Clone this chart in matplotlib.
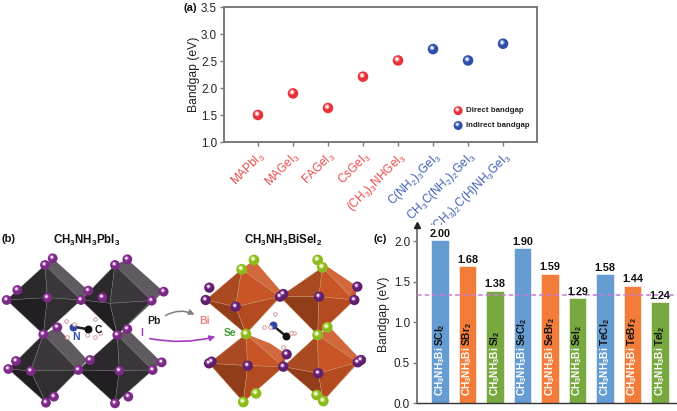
import matplotlib
matplotlib.use("Agg")
import matplotlib.pyplot as plt
from matplotlib.patches import Polygon, FancyArrowPatch
from matplotlib.transforms import offset_copy

plt.rcParams['font.family'] = ['Liberation Sans', 'DejaVu Sans']
plt.rcParams['mathtext.fontset'] = 'custom'
plt.rcParams['mathtext.rm'] = 'Liberation Sans'
plt.rcParams['mathtext.bf'] = 'Liberation Sans:bold'
plt.rcParams['mathtext.default'] = 'regular'

# panel a
compounds = [r'MAPbI$_3$', r'MAGeI$_3$', r'FAGeI$_3$', r'CsGeI$_3$', r'(CH$_3$)$_3$NHGeI$_3$',
             r'C(NH$_2$)$_3$GeI$_3$', r'CH$_3$C(NH$_2$)$_2$GeI$_3$', r'(CH$_3$)$_2$C(H)NH$_3$GeI$_3$']
gaps = [1.50, 1.90, 1.63, 2.21, 2.51, 2.72, 2.51, 2.82]
gap_kind = ['d', 'd', 'd', 'd', 'd', 'i', 'i', 'i']
a_ticks = [1.0, 1.5, 2.0, 2.5, 3.0, 3.5]

# panel c
prefix = r'CH$_{\mathbf{3}}$NH$_{\mathbf{3}}$Bi'
suffixes = [r'SCl$_{\mathbf{2}}$', r'SBr$_{\mathbf{2}}$', r'SI$_{\mathbf{2}}$',
            r'SeCl$_{\mathbf{2}}$', r'SeBr$_{\mathbf{2}}$', r'SeI$_{\mathbf{2}}$',
            r'TeCl$_{\mathbf{2}}$', r'TeBr$_{\mathbf{2}}$', r'TeI$_{\mathbf{2}}$']
bar_vals = [2.00, 1.68, 1.38, 1.90, 1.59, 1.29, 1.58, 1.44, 1.24]
c_ticks = [0.0, 0.5, 1.0, 1.5, 2.0]
ref_gap = 1.33

RED = '#e8323a'
BLUE = '#2f4ea8'
TXT_RED = '#ea4a4a'
TXT_BLUE = '#3f5fb5'
BAR_COLS = ['#659dd3', '#f27c38', '#78a940']
GREY = '#7a7a7a'
W, H = 677, 411


def px_axes(fig, left, top, right, bottom, **kw):
    return fig.add_axes([left / W, 1 - bottom / H, (right - left) / W, (bottom - top) / H], **kw)


def sphere(ax, x, y, col, size=58, light='#ffb0b0', trans=None, z=5):
    # fake a shaded ball with stacked markers
    trans = trans or ax.transData
    ax.scatter(x, y, s=size, color=col, edgecolor='none', transform=trans, zorder=z, clip_on=False)
    d = size ** 0.5
    off = offset_copy(trans, fig=ax.figure, x=-0.09 * d, y=0.12 * d, units='points')
    ax.scatter(x, y, s=size * 0.22, color=light, edgecolor='none', alpha=.8, transform=off, zorder=z + 1, clip_on=False)
    ax.scatter(x, y, s=size * 0.06, color='white', edgecolor='none', transform=off, zorder=z + 2, clip_on=False)


fig = plt.figure(figsize=(W / 100, H / 100), dpi=100, facecolor='white')

# ---- (a) ----
ax = px_axes(fig, 224, 7, 537, 142)
ax.set_xlim(-0.97, 7.97)
ax.set_ylim(1.0, 3.5)
for i in range(len(gaps)):
    if gap_kind[i] == 'd':
        sphere(ax, i, gaps[i], RED, light='#ffc0c0')
    else:
        sphere(ax, i, gaps[i], BLUE, light='#9fb0ee')
for s in ax.spines.values():
    s.set_color(GREY)
    s.set_linewidth(1.4)
ax.set_yticks(a_ticks)
ax.set_yticklabels(['%.1f' % t for t in a_ticks], fontsize=8.4, color='#222222')
ax.set_xticks(range(len(compounds)))
ax.set_xticklabels(compounds, rotation=45, ha='right', rotation_mode='anchor', fontsize=8.5)
for lab, k in zip(ax.get_xticklabels(), gap_kind):
    lab.set_color(TXT_RED if k == 'd' else TXT_BLUE)
ax.tick_params(axis='both', color=GREY, width=1, length=3, pad=2)
ax.set_ylabel('Bandgap (eV)', fontsize=8.7, color='#222222', labelpad=1)
sphere(ax, 0.748, 0.232, RED, size=42, light='#ffc0c0', trans=ax.transAxes)
sphere(ax, 0.748, 0.122, BLUE, size=42, light='#9fb0ee', trans=ax.transAxes)
ax.text(0.773, 0.232, 'Direct bandgap', transform=ax.transAxes, fontsize=5.7, fontweight='bold', va='center', color='#222222')
ax.text(0.773, 0.122, 'Indirect bandgap', transform=ax.transAxes, fontsize=5.7, fontweight='bold', va='center', color='#222222')

# ---- (c) ----
bx = px_axes(fig, 417, 225, 677, 403)
bx.set_xlim(-0.84, 8.62)
bx.set_ylim(0, 2.2)
for i, v in enumerate(bar_vals):
    col = BAR_COLS[i % 3]
    bx.bar(i, v + 0.01, width=0.63, color=col, edgecolor='#ffffff', linewidth=0.4, zorder=2)
    bx.text(i, v + 0.025, '%.2f' % v, ha='center', va='bottom', fontsize=7.8, fontweight='bold', color='#111111', zorder=5)
    t = bx.text(i, 0.09, prefix, rotation=90, ha='center', va='bottom', fontsize=7.3, fontweight='bold',
                color='#ffffff', zorder=4)
    bx.annotate(suffixes[i], xy=(0.5, 1), xycoords=t, rotation=90, ha='center', va='bottom', fontsize=7.3,
                fontweight='bold', color='#111111', zorder=4)
bx.axhline(ref_gap, color='#c67bd6', linestyle=(0, (3, 2)), linewidth=1.1, zorder=3)
for side in ['top', 'right']:
    bx.spines[side].set_visible(False)
bx.spines['left'].set_color(GREY)
bx.spines['left'].set_linewidth(1.4)
bx.spines['bottom'].set_color('#333333')
bx.spines['bottom'].set_linewidth(1)
bx.plot(0, 1, '^', color='#222222', markersize=4.5, transform=bx.transAxes, clip_on=False, zorder=6)
bx.set_xticks([])
bx.set_yticks(c_ticks)
bx.set_yticklabels(['%.1f' % t for t in c_ticks], fontsize=8.4, color='#222222')
bx.tick_params(axis='y', color=GREY, width=1, length=3, pad=2)
bx.set_ylabel('Bandgap (eV)', fontsize=8.7, color='#222222', labelpad=3)

# ---- (b) illustration, drawn in picture pixels over the whole figure ----
ov = fig.add_axes([0, 0, 1, 1], zorder=-1)
ov.set_xlim(0, W)
ov.set_ylim(H, 0)
ov.axis('off')
top_ov = fig.add_axes([0, 0, 1, 1], zorder=10)
top_ov.set_xlim(0, W)
top_ov.set_ylim(H, 0)
top_ov.axis('off')
top_ov.patch.set_alpha(0)


def zl(p):
    return (p[0] / 3, 220 + p[1] / 3)


def zr(p):
    return (170 + p[0] / 3, 220 + p[1] / 3)


def octa(conv, o, shades, edge):
    # o = top, back_top, left, back_right, right, front, bottom
    top, btop, left, bright, right, front, bottom = [conv(p) for p in o]
    ov.add_patch(Polygon([top, btop, bright, right], closed=True, fc=shades[0], ec='none', zorder=1))
    ov.add_patch(Polygon([right, bright, bottom], closed=True, fc=shades[1], ec='none', zorder=1))
    ov.add_patch(Polygon([left, top, front], closed=True, fc=shades[2], ec=edge, lw=.3, zorder=2))
    ov.add_patch(Polygon([front, top, right], closed=True, fc=shades[3], ec=edge, lw=.3, zorder=2))
    ov.add_patch(Polygon([left, front, bottom], closed=True, fc=shades[4], ec=edge, lw=.3, zorder=2))
    ov.add_patch(Polygon([front, right, bottom], closed=True, fc=shades[5], ec=edge, lw=.3, zorder=2))


dark = ['#5f5b60', '#4a474c', '#2b292c', '#3a383b', '#211f22', '#302e31']
rust = ['#d2693c', '#bf5a2e', '#a94a22', '#c85526', '#923d1a', '#b44b20']

left_oct = [
    [(135, 135), (158, 115), (20, 240), (265, 212), (243, 240), (142, 233), (130, 343)],
    [(345, 135), (382, 118), (243, 240), (491, 215), (455, 242), (330, 250), (352, 345)],
    [(130, 343), (172, 322), (25, 447), (262, 420), (235, 450), (92, 453), (138, 548)],
    [(352, 345), (382, 327), (235, 450), (485, 427), (458, 450), (358, 452), (345, 550)],
]
right_oct = [
    [(215, 148), (252, 120), (107, 240), (340, 222), (330, 230), (197, 260), (228, 342)],
    [(457, 142), (443, 120), (330, 230), (562, 200), (553, 240), (447, 230), (443, 345)],
    [(228, 342), (300, 370), (117, 430), (350, 403), (340, 440), (233, 437), (220, 546)],
    [(443, 345), (480, 322), (340, 440), (573, 420), (563, 427), (445, 460), (460, 543)],
]
for o in left_oct:
    octa(zl, o, dark, '#777277')
for o in right_oct:
    octa(zr, o, rust, '#cf9468')

left_iodine = [(135, 135), (158, 115), (20, 240), (142, 233), (243, 240), (130, 343), (172, 322),
               (52, 210), (265, 212), (345, 135), (382, 118), (307, 232), (455, 242), (491, 215),
               (352, 345), (382, 327), (25, 447), (92, 453), (235, 450), (138, 548), (162, 530),
               (48, 423), (358, 452), (458, 450), (485, 427), (345, 550), (385, 530), (270, 420)]
right_iodine = [(118, 203), (107, 240), (197, 260), (330, 230), (340, 222), (447, 230), (553, 240),
                (562, 200), (117, 430), (233, 437), (340, 440), (350, 403), (445, 460), (563, 427),
                (573, 420), (125, 425)]
right_se = [(215, 148), (252, 120), (457, 142), (443, 120), (228, 342), (443, 345), (220, 546),
            (258, 520), (460, 543), (440, 525), (472, 322)]
for p in left_iodine:
    x, y = zl(p)
    sphere(ov, x, y, '#7b2a86', size=50, light='#c06cc8', z=6)
for p in right_iodine:
    x, y = zr(p)
    sphere(ov, x, y, '#5f1f6c', size=55, light='#b060c0', z=6)
for p in right_se:
    x, y = zr(p)
    sphere(ov, x, y, '#8cbb1e', size=60, light='#d3ee80', z=6)

# methylammonium cations
mol_l = [((220, 320), (265, 328), '#2f45a5', '#111111')]
mol_r = [((308, 316), (348, 348), '#2f45a5', '#111111')]
for (n, c, cn, cc), conv in [(mol_l[0], zl), (mol_r[0], zr)]:
    xn, yn = conv(n)
    xc, yc = conv(c)
    ov.plot([xn, xc], [yn, yc], color='#222222', lw=1.8, zorder=7)
    ov.scatter([xn], [yn], s=22, color=cn, zorder=8)
    ov.scatter([xc], [yc], s=22, color=cc, zorder=8)
h_l = [(198, 302), (200, 350), (222, 312), (285, 298), (285, 352), (262, 345), (300, 338)]
h_r = [(316, 282), (282, 320), (300, 320), (372, 338), (362, 340), (338, 380)]
for p in h_l:
    ov.scatter(*zl(p), s=7, facecolor='white', edgecolor='#d89a9a', lw=.7, zorder=8)
for p in h_r:
    ov.scatter(*zr(p), s=7, facecolor='white', edgecolor='#d89a9a', lw=.7, zorder=8)

top_ov.add_patch(FancyArrowPatch((163, 317), (197, 316), connectionstyle='arc3,rad=-0.3', arrowstyle='-|>',
                                 mutation_scale=8, color='#808080', lw=1.1))
top_ov.add_patch(FancyArrowPatch((147, 338), (218, 336), connectionstyle='arc3,rad=0.12', arrowstyle='-|>',
                                 mutation_scale=8, color='#a53cc0', lw=1.2))
top_ov.text(154, 321, 'Pb', fontsize=7.5, fontweight='bold', ha='center', va='center', color='#222222')
top_ov.text(142, 333, 'I', fontsize=7.5, fontweight='bold', ha='center', va='center', color='#a53cc0')
top_ov.text(205, 321, 'Bi', fontsize=7.5, fontweight='bold', ha='center', va='center', color='#f08078')
top_ov.text(230, 333, 'Se', fontsize=7.5, fontweight='bold', ha='center', va='center', color='#3f9a30')
top_ov.text(76, 337, 'N', fontsize=7.5, fontweight='bold', ha='center', va='center', color='#2f4ea8')
top_ov.text(98, 330, 'C', fontsize=7.5, fontweight='bold', ha='center', va='center', color='#111111')
top_ov.text(87, 240, r'CH$_{\mathbf{3}}$NH$_{\mathbf{3}}$PbI$_{\mathbf{3}}$', fontsize=8.3, fontweight='bold', ha='center', va='center', color='#111111')
top_ov.text(283, 240, r'CH$_{\mathbf{3}}$NH$_{\mathbf{3}}$BiSeI$_{\mathbf{2}}$', fontsize=8.3, fontweight='bold', ha='center', va='center', color='#111111')
top_ov.text(190, 8, '(a)', fontsize=8, fontweight='bold', ha='center', va='center', color='#111111')
top_ov.text(9, 239, '(b)', fontsize=8, fontweight='bold', ha='center', va='center', color='#111111')
top_ov.text(380, 239, '(c)', fontsize=8, fontweight='bold', ha='center', va='center', color='#111111')

fig.savefig('out.png', dpi=100)
